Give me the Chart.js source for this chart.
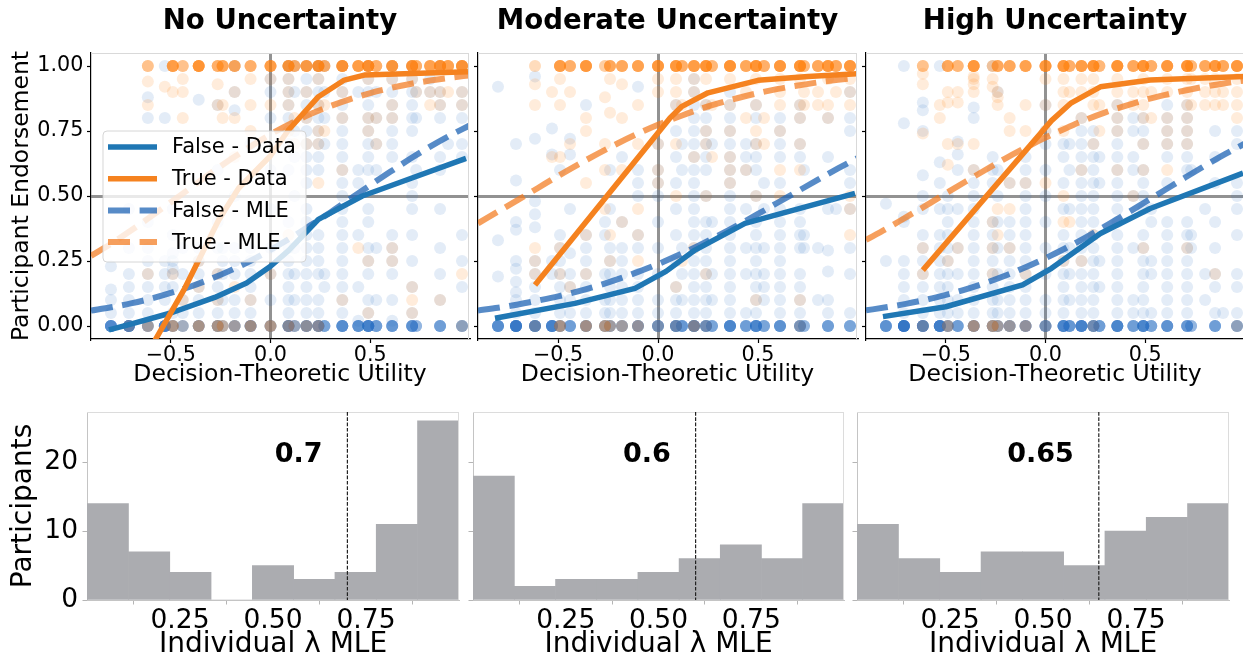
<!DOCTYPE html>
<html>
<head>
<meta charset="utf-8">
<title>Participant endorsement and individual λ estimates</title>
<script src="https://cdn.jsdelivr.net/npm/chart.js@4.4.1/dist/chart.umd.min.js"></script>
<style>
  html, body { margin: 0; padding: 0; background: #fff; width: 1243px; height: 665px; overflow: hidden; position: relative; }
  canvas { position: absolute; }
</style>
</head>
<body>
<canvas id="top0"></canvas>
<canvas id="top1"></canvas>
<canvas id="top2"></canvas>
<canvas id="hist0"></canvas>
<canvas id="hist1"></canvas>
<canvas id="hist2"></canvas>
<script>
// ---------- data ----------
const conditions = ['No Uncertainty', 'Moderate Uncertainty', 'High Uncertainty'];
const endorseTicks = [0, 0.25, 0.5, 0.75, 1];
const utilityTicks = [-0.5, 0, 0.5];
const lambdaTicks = [0.25, 0.5, 0.75];
const countTicks = [0, 10, 20];

// decision-theoretic utility of each item (one column of responses per item)
const utilityCols = [-0.80, -0.71, -0.615, -0.53, -0.49, -0.44, -0.36, -0.265, -0.24, -0.18, -0.10, 0.00,
  0.09, 0.12, 0.18, 0.24, 0.27, 0.36, 0.44, 0.49, 0.53, 0.61, 0.71, 0.73, 0.80, 0.85, 0.89, 0.96];

// endorsement responses per item column: false statements / true statements
const noneFalsePts = [
  [0,0,0,0,0,0,.05,.1,.14,.23],
  [0,0,0,0,0,0,0,0,.05,.1,.15,.2,.3,.45],
  [0,0,0,0,.05,.1,.15,.2,.25,.3,.4,.8,.88],
  [0,0,0,0,0,0,.1,.15,.2,.25,.8,1],
  [0,0,0,.05,.15,.2,.22,.25,.28,.35,.45],
  [0,0,.05,.1,.2,.3],
  [0,0,0,0,.05,.1,.15,.2,.25,.3,.87],
  [0,0,0,0,.05,.1,.15,.2,.3,.4,.6,.85],
  [0,0,.1,.2,.25,.3],
  [0,0,0,.05,.1,.2,.25,.3,.5,.83,.9,1],
  [0,0,0,0,0,.05,.1,.15,.2,.25,.3,.7],
  [0,0,0,0,.1,.2,.3,.45,.6,.8,.9,.95],
  [0,0,0,0,0,0,.05,.1,.15,.2,.25,.3,.4,.6,.7,.8,.85,.9,.95,1,1],
  [0,0,0,.1,.2,.3,.5,.65,.75,.9,1],
  [0,0,0,0,0,.05,.1,.15,.2,.25,.3,.35,.4,.45,.55,.6,.65,.7,.75,.8,.85,.9,.95,1],
  [0,0,0,0,0,.05,.1,.2,.25,.3,.35,.6,.65,.7,.75,.8,.85,.9,.95,1,1],
  [0,0,0,.15,.2,.7,.8,.9,1],
  [0,0,0,0,0,.05,.1,.15,.2,.25,.3,.35,.4,.45,.5,.55,.6,.65,.7,.75,.8,.85,.9,.95,1],
  [0,0,0,0,.02,.15,.35,.55,.6,.9],
  [0,0,0,0,0,0,.05,.1,.2,.25,.3,.4,.45,.6,.65,.7,.75,.8,.85,.9,.95,1],
  [0,0,0,.1,.3,.6,.7,.8,.9],
  [0,0,0,0,.02,.1,.2,.25,.3,.35,.65,.7,.75,.8,.85,.9,.95,1],
  [0,0,0,0,.05,.15,.25,.35,.45,.5,.55,.65,.75,.8,.85,.9,.95,1],
  [0,0,.6,.8,.9],
  [.9,.95],
  [0,0,0,.1,.2,.3,.45,.6,.65,.8,.85,.9,1],
  [.7],
  [0,0,0,.15,.25,.35,.65,.7,.8,.85,.9,1]
];
const noneTruePts = [
  [],
  [0],
  [1,1,.94,.85,0,0,.2],
  [.92],
  [1,1,1,1,0,0,0,.9,.2],
  [1,1,.95,.9,.8,0,.1],
  [1,1,1,1,1,0,0,0,.15,.25],
  [1,1,1,.93,.85,0,0,0,.2,.1],
  [1,1,1,.8,.85,0,0],
  [1,1,1,.9,.8,.65,0,0,.15],
  [1,1,1,.95,.85,.75,0,0,0,.1],
  [1,1,1,1,.95,.85,0,0,0,.2],
  [1,1,1,1,.95,.9,.85,.75,0,0,.35],
  [1,1,1,.8,.7,0],
  [1,1,1,1,.9,.8,.7,0,0],
  [1,1,1,1,1,.95,.85,.75,.7,.55,0,0],
  [1,1,1,.85,.75],
  [1,1,1,1,1,.9,.8,.6,.1],
  [1,1,1,1,.3],
  [1,1,1,1,1,1,.95,.8,.75,.25,.05],
  [1,1,1,.8,.7],
  [1,1,1,1,.95,.85,.8,.25,.3],
  [1,1,1,1,1,.95,.15,.1,.05],
  [1,1,1,.9],
  [1,1,1,1,.9,.85],
  [1,1,1,1,1,.9,.85,.1],
  [1,1,1,1,.9],
  [1,1,1,1,1,.9,.85,.2,0]
];
const modFalsePts = [
  [0,0,0,0,0,.19,.33,.92],
  [0,0,0,0,0,0,0,0,.05,.1,.13,.17,.22,.25,.37,.4,.56,.7],
  [0,0,0,0,0,0,.05,.1,.15,.2,.25,.38,.43,.48,.72,.96],
  [0,0,0,0,0,0,.2,.25,.66,.76],
  [0,0,0,.05,.1,.15,.2,.25,.3,.35,.6],
  [0,0,0,.05,.1,.15,.2,.28,.45,.66,.72],
  [0,0,0,0,.05,.1,.15,.2,.25,.3,.35,.85],
  [0,0,0,.05,.1,.2,.35,.4],
  [0,0,0,.05,.1,.15,.2,.25,.3,.45,.6],
  [0,0,0,.05,.1,.15,.2,.25,.3,.4,.65],
  [0,0,0,0,.05,.1,.15,.2,.3,.35,.5,.55,.6,.92],
  [0,0,0,0,0,.05,.1,.2,.3,.4,.5,.55,.6,.7],
  [0,0,0,0,0,.05,.1,.15,.25,.35,.45,.55,.65,.75,.85],
  [0,0,0,0,.1,.2,.3,.6,.7],
  [0,0,0,0,0,0,.05,.1,.15,.2,.25,.3,.35,.4,.45,.5,.55,.6,.65,.7,.75,.8,.85,.9,.95],
  [0,0,0,0,0,.05,.1,.15,.2,.25,.3,.35,.4,.5,.6,.65,.7,.75,.8,.85],
  [0,0,0,.1,.2,.4,.7],
  [0,0,0,0,0,.05,.1,.15,.2,.25,.3,.35,.4,.45,.5,.55,.6,.65,.7,.75,.8,.85,.9],
  [0,0,0,.05,.2,.3,.45,.6,.65,.7],
  [0,0,0,0,0,.05,.1,.15,.2,.25,.3,.35,.4,.5,.6,.65,.7,.8,.85],
  [0,0,0,.1,.15,.2,.3,.45,.55],
  [0,0,0,0,.05,.1,.15,.2,.25,.3,.35,.4,.45,.55,.65,.7,.75,.8],
  [0,0,0,0,.05,.1,.15,.2,.3,.35,.4,.45,.65,.7,.8,.85],
  [0,0,.3,.35,.6],
  [.1,.3],
  [0,0,0,.05,.1,.21,.29,.45,.65,.8],
  [.45],
  [0,0,0,.05,.2,.3,.45,.55,.6,.75,.8,.9]
];
const modTruePts = [
  [],
  [],
  [1,.93,.85,.25,.2,.3,0],
  [.9,.65],
  [1,1,1,1,.95,.85,.65,.3,.2,0,0,0],
  [1,1,1,.9,.7,.15],
  [1,1,1,1,.8,.75,.55,.35,.2,0,0,0],
  [1,.88,.45,.6,.7,0,0,0],
  [1,1,1,.95,.82,.35,.25,0,0],
  [1,1,1,.93,.8,.6,.4,0,0],
  [1,1,1,1,.85,.7,.45,.35,.25,0,0],
  [1,1,1,1,.95,.9,.6,.55,.7,0],
  [1,1,1,1,.95,.9,.85,.7,.5,.15,0],
  [1,1,1,.85,.25],
  [1,1,1,1,.95,.9,.65,.3,0,0],
  [1,1,1,1,1,.95,.85,.75,.7,.5,.2,0],
  [1,1,.85,.65],
  [1,1,1,1,1,.95,.85,.75,.65,.6,.55],
  [1,1,1,.9,.8,.6],
  [1,1,1,1,1,.95,.85,.75,.7,.5,.1],
  [1,1,1,.8,.7],
  [1,1,1,1,.95,.9,.85,.75,.6,.5],
  [1,1,1,1,1,.95,.85,.8,.7,.6,.1,0],
  [1,1,.9,.85],
  [1,1,1,.9,.85],
  [1,1,1,1,.95,.85,.8],
  [1,1,1,.9],
  [1,1,1,1,.95,.9,.85,.5,.45,.35]
];
const highFalsePts = [
  [0,0,0,0,0,.25,.47],
  [0,0,0,0,0,0,0,0,0,.05,.1,.15,.2,.25,.4,.42,.78,1],
  [0,0,0,0,0,0,.05,.1,.15,.2,.25,.3,.35,.45,.5,.58,.75,.83,.86],
  [0,0,0,0,0,0,0,.05,.1,.15,.2,.25,.3,.35,.45,.55,.63,1],
  [0,0,0,.05,.1,.15,.2,.25,.3,.35,.4,.45,.5],
  [0,0,0,.05,.1,.2,.3,.45,.6,.66,.71],
  [0,0,0,0,.05,.1,.15,.2,.25,.3,.35,.4,.45,.5,.55,.6,.8,.84],
  [0,0,0,0,.05,.1,.15,.2,.25,.3,.35,.4,.55,.6,.65,1],
  [0,0,0,.05,.1,.2,.3,.4,.5,.6,.9],
  [0,0,0,0,.05,.1,.15,.2,.25,.3,.35,.4,.55],
  [0,0,0,0,.05,.1,.15,.2,.25,.3,.35,.4,.45,.5,.55,.6,.65],
  [0,0,0,0,0,.05,.1,.2,.3,.4,.5,.6,.7,.75,.85],
  [0,0,0,0,0,.05,.1,.15,.2,.25,.3,.35,.45,.55,.65,.7],
  [0,0,0,0,.1,.2,.3,.45,.6,.7],
  [0,0,0,0,0,0,.05,.1,.15,.2,.25,.3,.35,.4,.45,.5,.55,.6,.65,.7,.75,.8],
  [0,0,0,0,0,.05,.1,.15,.2,.25,.3,.35,.4,.45,.5,.55,.6,.65,.7,.75],
  [0,0,0,0,.15,.25,.55,.65],
  [0,0,0,0,0,.05,.1,.15,.2,.25,.3,.35,.4,.45,.5,.55,.6,.65,.7,.75,.8,.85],
  [0,0,0,.05,.1,.3,.5,.6,.65,.75,.8],
  [0,0,0,0,0,.05,.1,.15,.2,.25,.3,.35,.45,.5,.55,.6,.7,.75,.8],
  [0,0,0,.05,.2,.25,.4,.45],
  [0,0,0,0,.05,.1,.15,.2,.25,.3,.35,.4,.55,.65,.7,.75,.8,.85],
  [0,0,0,0,.05,.1,.15,.2,.25,.3,.35,.4,.6,.65,.7,.75,.8,.85],
  [0,0,.3,.35,.6],
  [.1,.2,.45],
  [0,0,0,.05,.15,.2,.3,.4,.55,.65,.75],
  [.05],
  [0,0,0,.05,.15,.2,.35,.45,.5,.55,.7,.75]
];
const highTruePts = [
  [],
  [],
  [1,1,.97,.93,.74,.3,.2,0],
  [.85,.8],
  [1,1,1,.9,.86,.7,.62,.25,0,0],
  [1,1,.9,.86,.7,.3],
  [1,1,1,1,.96,.95,.93,.9,.7,.6,0,0,0],
  [1,.95,.92,.4,.3,.2,0,0,0],
  [1,1,1,.9,.88,.85,.45,.35,0,0],
  [1,1,1,.8,.75,.55,.45,.3,0,0],
  [1,1,1,1,.85,.75,.55,.2,0,0],
  [1,1,1,1,.95,.85,.75,.55,0],
  [1,1,1,1,.95,.9,.85,.75,.5,.4,.25],
  [1,1,1,.9,.4],
  [1,1,1,1,.95,.9,.8,.6,.25],
  [1,1,1,1,1,.95,.9,.85,.7,.35,0],
  [1,1,.85,.75],
  [1,1,1,1,1,.95,.9,.85,.8,.75,.6],
  [1,1,1,.9,.85,.5],
  [1,1,1,1,1,.95,.9,.85,.8,.7,.6,.3],
  [1,1,1,.9,.8],
  [1,1,1,1,.95,.9,.8,.75,.7,.6],
  [1,1,1,1,1,.95,.9,.85,.8,.75,.7,.3],
  [1,1,.95,.85],
  [1,1,1,.95,.9,.85],
  [1,1,1,1,.95,.9,.85,.2],
  [1,1,1,.9,.85],
  [1,1,1,1,.95,.9,.85,.8,0]
];

// further responses per item at the floor (false, 0) and ceiling (true, 1)
const noneFalseZeros = [6,8,3,8,4,3,4,4,2,4,5,3,6,3,5,6,4,6,6,8,5,5,6,3,0,5,0,4];
const noneTrueOnes   = [0,0,2,0,5,2,6,3,4,4,3,5,6,3,5,6,3,6,5,6,3,6,6,3,4,6,4,6];
const modFalseZeros  = [6,10,8,8,5,5,5,4,4,4,5,5,8,5,8,6,4,8,5,8,4,6,5,3,0,5,0,4];
const modTrueOnes    = [0,0,1,0,5,3,6,2,4,4,4,6,6,3,5,6,3,6,4,6,3,6,6,3,4,6,4,6];
const highFalseZeros = [5,10,8,9,5,5,5,4,4,4,5,5,8,5,8,6,4,8,5,8,4,6,5,3,0,5,0,4];
const highTrueOnes   = [0,0,2,0,4,3,6,2,4,4,4,6,6,3,5,6,3,6,4,6,3,6,6,3,4,6,4,6];

// binned mean endorsement [utility, endorsement]
const noneFalseData = [[-0.81,-0.015],[-0.71,0.005],[-0.5,0.05],[-0.28,0.11],[-0.12,0.165],[0.0,0.23],[0.09,0.29],[0.24,0.41],[0.46,0.5],[0.64,0.55],[0.98,0.645]];
const noneTrueData  = [[-0.62,-0.11],[-0.43,0.145],[-0.26,0.408],[-0.16,0.53],[0.0,0.655],[0.09,0.754],[0.24,0.882],[0.37,0.946],[0.47,0.965],[0.99,0.978]];
const modFalseData  = [[-0.815,0.03],[-0.415,0.087],[-0.115,0.145],[0.04,0.21],[0.185,0.292],[0.435,0.395],[0.985,0.51]];
const modTrueData   = [[-0.615,0.158],[0.06,0.8],[0.12,0.845],[0.25,0.897],[0.5,0.945],[0.75,0.96],[0.995,0.97]];
const highFalseData = [[-0.815,0.036],[-0.5,0.074],[-0.115,0.158],[0.03,0.222],[0.275,0.356],[0.525,0.452],[0.99,0.588]];
const highTrueData  = [[-0.615,0.215],[0.03,0.79],[0.125,0.856],[0.275,0.92],[0.525,0.946],[0.995,0.96]];

// MLE model predictions on a utility grid
const mleGrid = [-0.9,-0.8,-0.7,-0.6,-0.5,-0.4,-0.3,-0.2,-0.1,0,0.1,0.2,0.3,0.4,0.5,0.6,0.7,0.8,0.9,1.0];
const noneFalseMle = [0.059,0.072,0.087,0.105,0.127,0.152,0.181,0.214,0.251,0.293,0.338,0.387,0.437,0.490,0.542,0.593,0.643,0.690,0.733,0.772];
const noneTrueMle  = [0.270,0.316,0.367,0.421,0.476,0.532,0.588,0.641,0.691,0.737,0.778,0.815,0.846,0.873,0.896,0.915,0.931,0.944,0.955,0.964];
const modFalseMle  = [0.060,0.070,0.083,0.098,0.114,0.133,0.155,0.180,0.208,0.238,0.272,0.308,0.347,0.388,0.431,0.475,0.519,0.563,0.606,0.647];
const modTrueMle   = [0.395,0.440,0.485,0.531,0.577,0.621,0.663,0.703,0.740,0.774,0.804,0.832,0.856,0.877,0.896,0.912,0.925,0.937,0.947,0.956];
const highFalseMle = [0.060,0.072,0.085,0.101,0.120,0.141,0.166,0.194,0.226,0.261,0.299,0.340,0.384,0.430,0.477,0.524,0.571,0.617,0.661,0.702];
const highTrueMle  = [0.331,0.373,0.418,0.463,0.510,0.556,0.601,0.645,0.686,0.725,0.760,0.793,0.822,0.847,0.870,0.889,0.906,0.921,0.934,0.944];

// histogram of individual λ estimates
const lambdaBins = [0.056, 0.167, 0.278, 0.389, 0.5, 0.611, 0.722, 0.833, 0.944];
const noneHist = [14, 7, 4, 0, 5, 3, 4, 11, 26];
const modHist  = [18, 2, 3, 3, 4, 6, 8, 6, 14];
const highHist = [11, 6, 4, 7, 7, 5, 10, 12, 14];
const lambdaMeans = [0.7, 0.6, 0.65];

// ---------- styling ----------
const FONT = '"DejaVu Sans", "Liberation Sans", sans-serif';
const BLUE = '#1f77b4';
const ORANGE = '#f5821f';
const BLUE_MLE = 'rgba(31,100,180,0.75)';
const ORANGE_MLE = 'rgba(242,122,30,0.72)';
const BLUE_PT = 'rgba(40,110,190,0.13)';
const ORANGE_PT = 'rgba(255,127,14,0.15)';
const REF = 'rgba(100,100,100,0.7)';
const CLEAR = 'rgba(0,0,0,0)';
Chart.defaults.font.family = FONT;
Chart.defaults.color = '#000';

const fmtUtility = v => (v < 0 ? '\u2212' : '') + Math.abs(v).toFixed(1);

// light top/right spines
const framePlugin = {
  id: 'frame',
  afterDatasetsDraw(chart, args, opts) {
    const { ctx, chartArea: a } = chart;
    ctx.save();
    ctx.strokeStyle = opts.color;
    ctx.lineWidth = 1;
    ctx.beginPath();
    ctx.moveTo(a.left, a.top + 0.5); ctx.lineTo(a.right, a.top + 0.5);
    ctx.moveTo(a.right - 0.5, a.top); ctx.lineTo(a.right - 0.5, a.bottom);
    ctx.stroke();
    ctx.restore();
  }
};

// boxed legend inside the plot area, styled from the curve datasets
const curveLegendPlugin = {
  id: 'curveLegend',
  afterDraw(chart, args, opts) {
    if (!opts.display) return;
    const { ctx, chartArea: a } = chart;
    const x0 = a.left + opts.dx, y0 = a.top + opts.dy, w = opts.w, h = opts.h, r = 4;
    ctx.save();
    ctx.beginPath();
    ctx.moveTo(x0 + r, y0);
    ctx.arcTo(x0 + w, y0, x0 + w, y0 + h, r);
    ctx.arcTo(x0 + w, y0 + h, x0, y0 + h, r);
    ctx.arcTo(x0, y0 + h, x0, y0, r);
    ctx.arcTo(x0, y0, x0 + w, y0, r);
    ctx.closePath();
    ctx.fillStyle = 'rgba(255,255,255,0.8)';
    ctx.fill();
    ctx.strokeStyle = 'rgba(204,204,204,0.8)';
    ctx.lineWidth = 1;
    ctx.stroke();
    ctx.font = '21px ' + FONT;
    ctx.textBaseline = 'middle';
    ctx.textAlign = 'left';
    opts.items.forEach((idx, k) => {
      const ds = chart.data.datasets[idx];
      const cy = y0 + 16 + k * 31.7;
      ctx.strokeStyle = ds.borderColor;
      ctx.lineWidth = ds.borderWidth;
      ctx.lineCap = 'butt';
      ctx.setLineDash(ds.borderDash || []);
      ctx.beginPath();
      ctx.moveTo(x0 + 5, cy); ctx.lineTo(x0 + 54, cy);
      ctx.stroke();
      ctx.setLineDash([]);
      ctx.fillStyle = '#000';
      ctx.fillText(ds.label, x0 + 69, cy + 1);
    });
    ctx.restore();
  }
};

// dashed marker and bold label at the mean λ
const meanPlugin = {
  id: 'meanMarker',
  afterDatasetsDraw(chart, args, opts) {
    const { ctx, chartArea: a, scales: { x, y } } = chart;
    const px = x.getPixelForValue(opts.value);
    ctx.save();
    ctx.strokeStyle = '#222';
    ctx.lineWidth = 1.2;
    ctx.setLineDash([3.7, 1.6]);
    ctx.beginPath();
    ctx.moveTo(px, a.top); ctx.lineTo(px, a.bottom);
    ctx.stroke();
    ctx.setLineDash([]);
    ctx.font = 'bold 27px ' + FONT;
    ctx.fillStyle = '#000';
    ctx.textAlign = 'right';
    ctx.textBaseline = 'alphabetic';
    ctx.fillText(String(opts.value), x.getPixelForValue(opts.value - 0.067), y.getPixelForValue(20));
    ctx.restore();
  }
};

// responses of every item column, plus the repeated floor/ceiling responses
function columnPoints(cols, repeats, repeatValue) {
  const pts = [];
  utilityCols.forEach((x, i) => {
    cols[i].forEach(y => pts.push({ x, y }));
    for (let k = 0; k < repeats[i]; k++) pts.push({ x, y: repeatValue });
  });
  return pts;
}
const pairPoints = arr => arr.map(([x, y]) => ({ x, y }));
const gridPoints = vals => mleGrid.map((x, i) => ({ x, y: vals[i] }));

function placeCanvas(id, left, top, width, height) {
  const cv = document.getElementById(id);
  cv.width = width; cv.height = height;
  cv.style.left = left + 'px'; cv.style.top = top + 'px';
  cv.style.width = width + 'px'; cv.style.height = height + 'px';
  return cv;
}

// ---------- top row: endorsement vs utility ----------
const topPanels = [
  { id: 'top0', left: 0,   width: 475, yAxisW: 91, padR: 5, showY: true,  legend: true,
    fPts: noneFalsePts, tPts: noneTruePts, fRep: noneFalseZeros, tRep: noneTrueOnes,
    fData: noneFalseData, tData: noneTrueData, fMle: noneFalseMle, tMle: noneTrueMle },
  { id: 'top1', left: 472, width: 392, yAxisW: 6,  padR: 7, showY: false, legend: false,
    fPts: modFalsePts, tPts: modTruePts, fRep: modFalseZeros, tRep: modTrueOnes,
    fData: modFalseData, tData: modTrueData, fMle: modFalseMle, tMle: modTrueMle },
  { id: 'top2', left: 860, width: 390, yAxisW: 6,  padR: 5, showY: false, legend: false,
    fPts: highFalsePts, tPts: highTruePts, fRep: highFalseZeros, tRep: highTrueOnes,
    fData: highFalseData, tData: highTrueData, fMle: highFalseMle, tMle: highTrueMle }
];

topPanels.forEach((p, i) => {
  const cv = placeCanvas(p.id, p.left, 0, p.width, 395);
  const curve = (label, data, color, width, dash, order, smooth) => ({
    type: 'scatter', label, data, showLine: true, borderColor: color, backgroundColor: color,
    borderWidth: width, borderDash: dash, pointRadius: 0, pointHoverRadius: 0, order, clip: 0,
    borderCapStyle: 'butt', borderJoinStyle: 'round', tension: 0,
    cubicInterpolationMode: smooth ? 'monotone' : 'default'
  });
  const cloud = (label, data, color, order) => ({
    type: 'scatter', label, data, showLine: false, backgroundColor: color, borderWidth: 0,
    pointRadius: 6, pointHoverRadius: 6, pointBorderWidth: 0, order
  });
  new Chart(cv, {
    type: 'scatter',
    data: {
      datasets: [
        curve('False - Data', pairPoints(p.fData), BLUE, 5.5, [], 1, false),
        curve('True - Data', pairPoints(p.tData), ORANGE, 5.5, [], 0, false),
        curve('False - MLE', gridPoints(p.fMle), BLUE_MLE, 6, [22, 9.6], 3, true),
        curve('True - MLE', gridPoints(p.tMle), ORANGE_MLE, 6, [22, 9.6], 2, true),
        cloud('False responses', columnPoints(p.fPts, p.fRep, 0), BLUE_PT, 5),
        cloud('True responses', columnPoints(p.tPts, p.tRep, 1), ORANGE_PT, 4)
      ]
    },
    options: {
      responsive: false, animation: false, events: [],
      layout: { padding: { left: 0, right: p.padR, top: 0, bottom: 0 } },
      plugins: {
        legend: { display: false }, tooltip: { enabled: false },
        title: { display: true, text: conditions[i], fullSize: false, color: '#000',
          font: { family: FONT, size: 27.6, weight: 'bold', lineHeight: 1.2 }, padding: { top: 4.9, bottom: 15 } },
        frame: { color: '#d9d9d9' },
        curveLegend: { display: p.legend, dx: 12, dy: 78, w: 203, h: 131, items: [0, 1, 2, 3] }
      },
      scales: {
        x: {
          type: 'linear', min: -0.9, max: 0.995,
          afterBuildTicks: s => { s.ticks = utilityTicks.map(v => ({ value: v })); },
          afterFit: s => { s.height = 56; s.paddingLeft = 0; s.paddingRight = 0; },
          ticks: { autoSkip: false, maxRotation: 0, minRotation: 0, padding: 0, color: '#000',
            font: { family: FONT, size: 20.7, lineHeight: 1.2 }, callback: v => fmtUtility(v) },
          grid: { color: c => (c.tick && c.tick.value === 0) ? REF : CLEAR, lineWidth: 3,
            drawTicks: true, tickLength: 4, tickColor: '#000', tickWidth: 1.2 },
          border: { display: true, color: '#000', width: 1.2 },
          title: { display: true, text: 'Decision-Theoretic Utility', color: '#000',
            font: { family: FONT, size: 23.5, lineHeight: 1.2 }, padding: { top: 0, bottom: 5.9 } }
        },
        y: {
          type: 'linear', min: -0.05, max: 1.05,
          afterBuildTicks: s => { s.ticks = endorseTicks.map(v => ({ value: v })); },
          afterFit: s => { s.width = p.yAxisW; s.paddingTop = 0; s.paddingBottom = 0; },
          ticks: { display: p.showY, autoSkip: false, padding: 3.7, color: '#000',
            font: { family: FONT, size: 20.7, lineHeight: 1.2 }, callback: v => v.toFixed(2) },
          grid: { color: c => (c.tick && c.tick.value === 0.5) ? REF : CLEAR, lineWidth: 3,
            drawTicks: true, tickLength: 4, tickColor: '#000', tickWidth: 1.2 },
          border: { display: true, color: '#000', width: 1.2 },
          title: { display: p.showY, text: 'Participant Endorsement', color: '#000',
            font: { family: FONT, size: 23.5, lineHeight: 1.2 }, padding: { top: 7.8, bottom: 0 } }
        }
      }
    },
    plugins: [framePlugin, curveLegendPlugin]
  });
});

// ---------- bottom row: λ histograms ----------
const histPanels = [
  { id: 'hist0', left: 0,   width: 466, yAxisW: 87, showY: true,  counts: noneHist },
  { id: 'hist1', left: 466, width: 385, yAxisW: 7,  showY: false, counts: modHist },
  { id: 'hist2', left: 851, width: 385, yAxisW: 6,  showY: false, counts: highHist }
];

histPanels.forEach((p, i) => {
  const cv = placeCanvas(p.id, p.left, 400, p.width, 265);
  new Chart(cv, {
    type: 'bar',
    data: {
      datasets: [{
        label: 'Participants',
        data: lambdaBins.map((x, k) => ({ x, y: p.counts[k] })),
        backgroundColor: '#abacb0', borderWidth: 0, barPercentage: 1, categoryPercentage: 1
      }]
    },
    options: {
      responsive: false, animation: false, events: [],
      layout: { padding: { left: 0, right: 7, top: 12, bottom: 0 } },
      plugins: {
        legend: { display: false }, tooltip: { enabled: false },
        frame: { color: '#dcdcdc' },
        meanMarker: { value: lambdaMeans[i] }
      },
      scales: {
        x: {
          type: 'linear', min: 0, max: 1, offset: false,
          afterBuildTicks: s => { s.ticks = lambdaTicks.map(v => ({ value: v })); },
          afterFit: s => { s.height = 65; s.paddingLeft = 0; s.paddingRight = 0; },
          ticks: { autoSkip: false, maxRotation: 0, minRotation: 0, padding: 1, color: '#000',
            font: { family: FONT, size: 26.5, lineHeight: 1.2 }, callback: v => v.toFixed(2) },
          grid: { drawOnChartArea: false, drawTicks: true, tickLength: 4.5, tickColor: '#b5b5b5', tickWidth: 1 },
          border: { display: true, color: '#c4c4c4', width: 1 },
          title: { display: true, text: 'Individual λ MLE', color: '#000',
            font: { family: FONT, size: 28, lineHeight: 1.2 }, padding: { top: 0, bottom: 3.9 } }
        },
        y: {
          type: 'linear', min: 0, max: 27.3,
          afterBuildTicks: s => { s.ticks = countTicks.map(v => ({ value: v })); },
          afterFit: s => { s.width = p.yAxisW; s.paddingTop = 0; s.paddingBottom = 0; },
          ticks: { display: p.showY, autoSkip: false, padding: 4.5, color: '#000',
            font: { family: FONT, size: 26.5, lineHeight: 1.2 }, callback: v => String(v) },
          grid: { drawOnChartArea: false, drawTicks: true, tickLength: 4.5, tickColor: '#b5b5b5', tickWidth: 1 },
          border: { display: true, color: '#c4c4c4', width: 1 },
          title: { display: p.showY, text: 'Participants', color: '#000',
            font: { family: FONT, size: 28, lineHeight: 1.2 }, padding: { top: 6.9, bottom: 0 } }
        }
      }
    },
    plugins: [framePlugin, meanPlugin]
  });
});
</script>
</body>
</html>
